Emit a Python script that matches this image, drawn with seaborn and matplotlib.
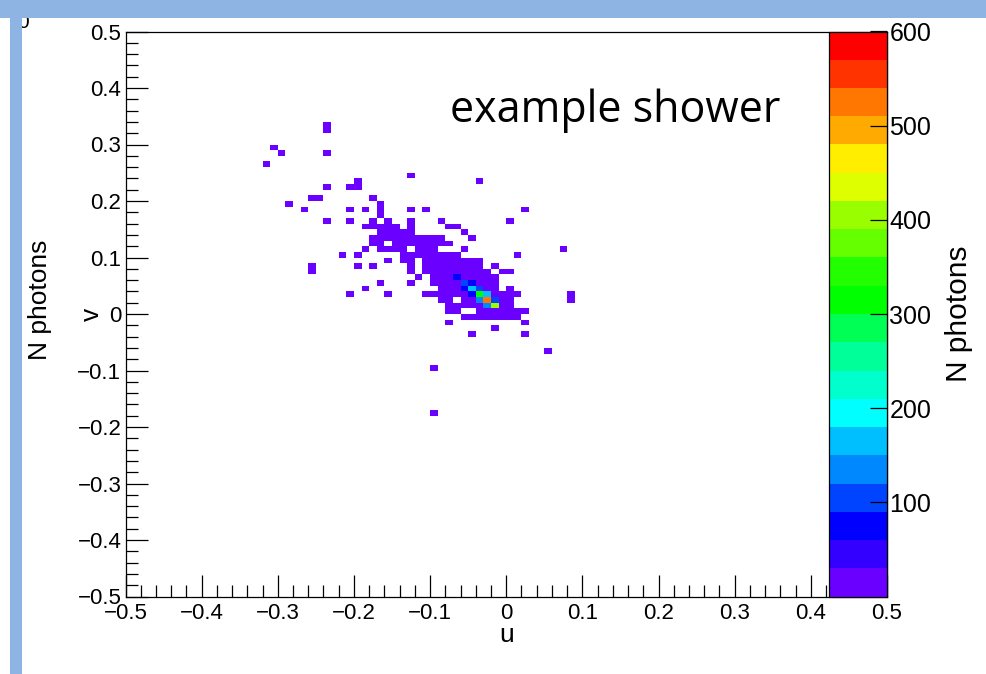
import numpy as np
import pandas as pd
import matplotlib
matplotlib.use("Agg")
import matplotlib.pyplot as plt
import seaborn as sns
from matplotlib.colors import ListedColormap
from matplotlib.patches import Rectangle
from matplotlib.ticker import MultipleLocator, FuncFormatter

# ---------------- data ----------------
# occupied bins of the 2D histogram: row index -> column indices
# column 0 = u bin [-0.33,-0.32], row 0 = v bin [0.34,0.35], bin size 0.01
U_START, V_START, BIN = -0.33, 0.35, 0.01
occupied = {
    1: "9", 2: "9", 5: "2", 6: "3 9", 8: "1", 10: "20", 11: "13 29",
    12: "9 12 13", 14: "7 8 15", 15: "4 16", 16: "6 12 14 16 20 22 35",
    17: "16", 18: "9 12 15 17 20 24 33", 19: "14-18 20 25 26",
    20: "16-20 27", 21: "15-24 28", 22: "15 16 18-25",
    23: "14 16-19 21-23 27 40", 24: "11 13 19-26 34",
    25: "17 19 20 22-29", 26: "7 13 15 20 22-29 31",
    27: "7 20 22-30 32 33", 28: "21 23-31", 29: "16 20 23-31",
    30: "14 24-31 33", 31: "12 17 22-34 41", 32: "24 25 27-33 41",
    33: "25-33", 34: "25 26 29-35", 35: "27-34", 36: "25 35", 37: "31",
    38: "28 35", 41: "38", 44: "23", 52: "23",
}
low_count = 12          # typical count of the violet (lowest level) bins
# bins with higher counts: (row, column, N photons)
hot_rows = [28, 29, 29, 30, 30, 30, 31, 31, 31, 32, 32, 32, 33, 33]
hot_cols = [26, 27, 28, 27, 28, 29, 28, 29, 30, 29, 30, 31, 30, 31]
hot_counts = [75, 105, 75, 75, 170, 105, 75, 315, 170, 135, 525, 105, 135, 395]

palette_colors = ["#6A00FF", "#3300FF", "#0000FF", "#0044FF", "#0088FF",
                  "#00BFFF", "#00FFFF", "#00FFCC", "#00FF99", "#00FF55",
                  "#00FF00", "#22FF00", "#66FF00", "#99FF00", "#DDFF00",
                  "#FFEE00", "#FFAA00", "#FF7700", "#FF3300", "#FF0000"]
z_min, z_max = 0, 600
z_ticks = [100, 200, 300, 400, 500, 600]
axis_ticks = [-0.5, -0.4, -0.3, -0.2, -0.1, 0, 0.1, 0.2, 0.3, 0.4, 0.5]

# ---------------- build table ----------------
cells = {}
for r, spec in occupied.items():
    for tok in spec.split():
        if "-" in tok:
            a, b = map(int, tok.split("-"))
            cols = range(a, b + 1)
        else:
            cols = [int(tok)]
        for c in cols:
            cells[(r, c)] = low_count
for r, c, n in zip(hot_rows, hot_cols, hot_counts):
    cells[(r, c)] = n
df = pd.DataFrame(
    [(U_START + (c + 0.5) * BIN, V_START - (r + 0.5) * BIN, n) for (r, c), n in cells.items()],
    columns=["u", "v", "n"])

# ---------------- figure ----------------
W, H = 986, 674
fig = plt.figure(figsize=(W / 100, H / 100), dpi=100)
plt.rcParams["font.family"] = ["Liberation Sans", "DejaVu Sans"]

ax = fig.add_axes([125.5 / W, 1 - 596.5 / H, 761.5 / W, 565 / H])
cax = fig.add_axes([829 / W, 1 - 596.5 / H, 57.5 / W, 565 / H])
cmap = ListedColormap(palette_colors)
edges = [round(-0.5 + 0.01 * i, 2) for i in range(101)]
sns.histplot(data=df, x="u", y="v", weights="n", bins=edges, cmap=cmap,
             vmin=z_min, vmax=z_max, cbar=True, cbar_ax=cax, ax=ax)

ax.set_xlim(-0.5, 0.5)
ax.set_ylim(-0.5, 0.5)
fmt = FuncFormatter(lambda x, _: "0" if abs(x) < 1e-9 else f"{x:.1f}".replace("-", "\u2212"))
ax.set_xticks(axis_ticks)
ax.set_yticks(axis_ticks)
ax.xaxis.set_major_formatter(fmt)
ax.yaxis.set_major_formatter(fmt)
ax.xaxis.set_minor_locator(MultipleLocator(0.02))
ax.yaxis.set_minor_locator(MultipleLocator(0.02))
ax.tick_params(which="both", direction="in", top=False, right=False, width=0.9, colors="black")
ax.tick_params(which="major", length=16, labelsize=16)
ax.tick_params(which="minor", length=8.5)
ax.tick_params(axis="x", which="major", pad=5)
ax.tick_params(axis="y", which="major", pad=3)
for s in ax.spines.values():
    s.set_linewidth(0.9)
    s.set_color("black")
ax.set_xlabel("u", fontsize=19, va="center")
ax.xaxis.set_label_coords(0.5, (596.5 - 635) / 565)
ax.set_ylabel("v", fontsize=19, va="center", rotation=90)
ax.yaxis.set_label_coords((92 - 125.5) / 761.5, 0.5)

cbar = ax.collections[0].colorbar
cbar.set_ticks(z_ticks)
cbar.outline.set_linewidth(0.9)
cax.tick_params(direction="in", length=12, width=0.9, labelsize=18, pad=2,
                right=True, left=False, labelright=True)
cax.yaxis.set_label_position("right")
cax.set_ylabel("N photons", fontsize=21.5, rotation=90)
cax.yaxis.label.set_verticalalignment("center")
cax.yaxis.set_label_coords((959 - 829) / 57.5, (596.5 - 314) / 565)

# slide decorations around the screenshot
fig.text(615 / W, 1 - 111 / H, "example shower", ha="center", va="center",
         fontsize=31, family=["Open Sans", "DejaVu Sans"])
fig.text(40 / W, 1 - 300 / H, "N photons", rotation=90, ha="center", va="center", fontsize=19)
fig.text(23 / W, 1 - 23 / H, "0", ha="center", va="center", fontsize=15, zorder=2)
bar_color = "#8DB4E2"
fig.add_artist(Rectangle((0, 1 - 18 / H), 1, 18 / H, transform=fig.transFigure,
                         color=bar_color, zorder=5, lw=0))
fig.add_artist(Rectangle((10 / W, 0), 12 / W, 1, transform=fig.transFigure,
                         color=bar_color, zorder=5, lw=0))

fig.savefig("out.png", dpi=100)
